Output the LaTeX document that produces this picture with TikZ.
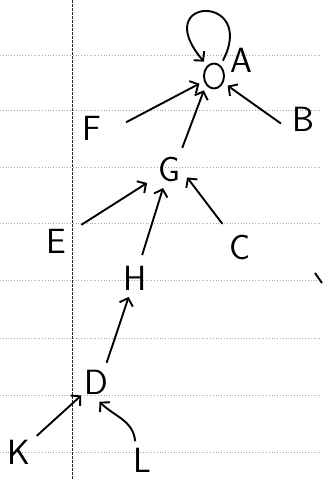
\documentclass[tikz,border=0pt]{standalone}
\usetikzlibrary{positioning, arrows.meta, shapes.geometric}

\begin{document}
\begin{tikzpicture}[x=1pt, y=1pt, line width=1.9pt, ->,
    >={Straight Barb[length=6.5pt,width=14pt]},
    letterfont/.style={font=\sffamily\fontsize{35}{35}\selectfont},
    letter/.style={letterfont, circle, inner sep=0pt, outer sep=0pt, minimum size=40pt},
    rule/.style={-, gray!70, dotted, line width=0.8pt},
    margin/.style={-, black!85, line width=0.7pt, dash pattern=on 3pt off 1pt}]
    \useasboundingbox (0,0) rectangle (322,-479);
    % ruled paper
    \foreach \y in {55,110,167,223,280,338,395,452}
      \draw [rule] (0,-\y) -- (322,-\y);
    \draw [margin] (72,0) -- (72,-479);

    \node [ellipse, draw, inner sep=0pt, outer sep=6pt, minimum width=20pt, minimum height=25pt,
      label distance=10pt, label={[letterfont, inner sep=0pt]10:A}] (node_A) at (214,-76) {};
    \node [letter] (node_F) at (92,-128) {F};
    \node [letter] (node_B) at (303,-119) {B};
    \node [letter] (node_G) at (169,-169) {G};
    \node [letter] (node_E) at (56,-241) {E};
    \node [letter] (node_C) at (240,-247) {C};
    \node [letter] (node_H) at (135,-278) {H};
    \node [letter] (node_D) at (96,-382) {D};
    \node [letter] (node_K) at (19,-452) {K};
    \node [letter] (node_L) at (142,-460) {L};

    \draw (node_A.60) .. controls (258,7) and (148,4) .. (node_A.125);
    \draw [shorten <=16pt] (node_F.-5) -- (node_A);
    \draw [shorten <=4pt] (node_B.200) -- (node_A);
    \draw [shorten <=5pt] (node_G.55) -- (node_A.235);
    \draw [shorten <=10pt, shorten >=6pt] (node_E) -- (node_G);
    \draw [shorten <=4pt] (node_H) -- (node_G);
    \draw [shorten <=9pt] (node_C) -- (node_G.-25);
    \draw [shorten <=2pt] (node_D.60) -- (node_H);
    \draw [shorten <=4pt] (node_K) -- (node_D);
    \draw (node_L.110) to [out=95, in=-45] (node_D.-80);
    % stray pen mark
    \draw [-] (315,-273) -- (322,-283);
\end{tikzpicture}
\end{document}
